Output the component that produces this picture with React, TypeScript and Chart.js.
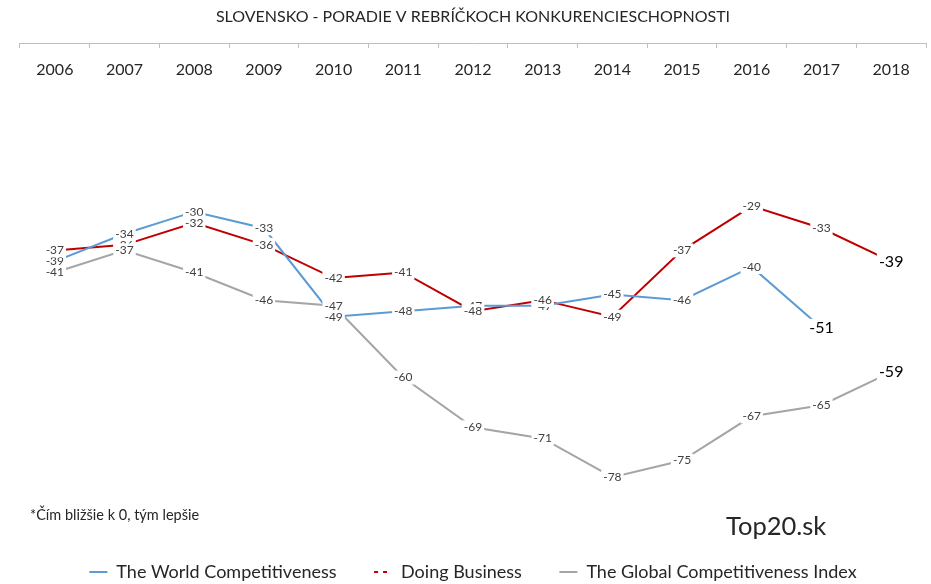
import React, { useEffect, useRef } from 'react';
import { Chart, registerables } from 'chart.js';

Chart.register(...registerables);

const FONT = 'Lato, "Open Sans", sans-serif';

const years = ['2006', '2007', '2008', '2009', '2010', '2011', '2012', '2013', '2014', '2015', '2016', '2017', '2018'];
const worldCompetitiveness = [-39, -34, -30, -33, -49, -48, -47, -47, -45, -46, -40, -51, null];
const doingBusiness = [-37, -36, -32, -36, -42, -41, -48, -46, -49, -37, -29, -33, -39];
const globalCompetitivenessIndex = [-41, -37, -41, -46, -47, -60, -69, -71, -78, -75, -67, -65, -59];
const seriesNames = ['The World Competitiveness', 'Doing Business', 'The Global Competitiveness Index'];
const seriesColors = ['#5B9BD5', '#C00000', '#A5A5A5'];
const chartTitle = 'SLOVENSKO - PORADIE V REBRÍČKOCH KONKURENCIESCHOPNOSTI';
const noteText = '*Čím bližšie k 0, tým lepšie';
const brandText = 'Top20.sk';

const pointLabelPlugin = {
  id: 'pointLabels',
  afterDatasetsDraw(chart: any) {
    const ctx = chart.ctx;
    ctx.save();
    chart.data.datasets.forEach((ds: any, di: number) => {
      const meta = chart.getDatasetMeta(di);
      let lastIdx = -1;
      ds.data.forEach((v: any, i: number) => { if (v !== null && v !== undefined) lastIdx = i; });
      meta.data.forEach((pt: any, i: number) => {
        const v = ds.data[i];
        if (v === null || v === undefined) return;
        const big = i === lastIdx;
        const size = big ? 16 : 12;
        ctx.font = `${size}px ${FONT}`;
        const text = String(v);
        const w = ctx.measureText(text).width;
        ctx.fillStyle = '#ffffff';
        ctx.fillRect(pt.x - w / 2 - 2, pt.y - size / 2 - 1, w + 4, size + 2);
        ctx.fillStyle = big ? '#000000' : '#404040';
        ctx.textAlign = 'center';
        ctx.textBaseline = 'middle';
        ctx.fillText(text, pt.x, pt.y);
      });
    });
    ctx.restore();
  },
};

export default function App() {
  const canvasRef = useRef<HTMLCanvasElement | null>(null);

  useEffect(() => {
    if (!canvasRef.current) return;
    const seriesData = [worldCompetitiveness, doingBusiness, globalCompetitivenessIndex];
    const chart = new Chart(canvasRef.current, {
      type: 'line',
      data: {
        labels: years,
        datasets: seriesData.map((d, i) => ({
          label: seriesNames[i],
          data: d,
          borderColor: seriesColors[i],
          backgroundColor: seriesColors[i],
          borderWidth: 2,
          pointRadius: 0,
          tension: 0,
          spanGaps: false,
        })),
      },
      options: {
        animation: false,
        responsive: true,
        maintainAspectRatio: false,
        layout: { padding: { left: 20, right: 5, top: 0, bottom: -7 } },
        plugins: {
          title: {
            display: true,
            text: chartTitle,
            color: '#262626',
            font: { family: FONT, size: 16, weight: 'normal' },
            padding: { top: 7.4, bottom: 16.4 },
          },
          legend: {
            position: 'bottom',
            labels: {
              font: { family: FONT, size: 18 },
              color: '#262626',
              padding: 37.5,
              usePointStyle: true,
              pointStyleWidth: 18,
              generateLabels: (ch: any) =>
                ch.data.datasets.map((ds: any, i: number) => ({
                  text: ds.label,
                  fillStyle: seriesColors[i],
                  strokeStyle: seriesColors[i],
                  lineWidth: 2,
                  lineDash: i === 1 ? [4, 5] : [],
                  pointStyle: 'line',
                  hidden: false,
                  datasetIndex: i,
                  fontColor: '#262626',
                })),
            },
          },
          tooltip: { enabled: false },
        },
        scales: {
          x: {
            position: 'top',
            offset: true,
            grid: { offset: true, drawOnChartArea: false, tickLength: -5, color: '#BFBFBF' },
            border: { color: '#BFBFBF' },
            ticks: { mirror: true, padding: 17, font: { family: FONT, size: 16 }, color: '#262626', maxRotation: 0, autoSkip: false },
            afterFit: (s: any) => { s.height = 0; },
          },
          y: { display: false, min: -86.75, max: 0.5 },
        },
      },
      plugins: [pointLabelPlugin],
    } as any);
    return () => chart.destroy();
  }, []);

  return (
    <div style={{ position: 'absolute', left: 0, top: 0, width: 931, height: 584, background: '#fff', fontFamily: FONT }}>
      <canvas ref={canvasRef} />
      <div style={{ position: 'absolute', left: 30, top: 506, fontSize: 14.5, lineHeight: '18px', color: '#262626' }}>{noteText}</div>
      <div style={{ position: 'absolute', left: 726, top: 510, fontSize: 25.5, lineHeight: '30px', color: '#262626' }}>{brandText}</div>
    </div>
  );
}
